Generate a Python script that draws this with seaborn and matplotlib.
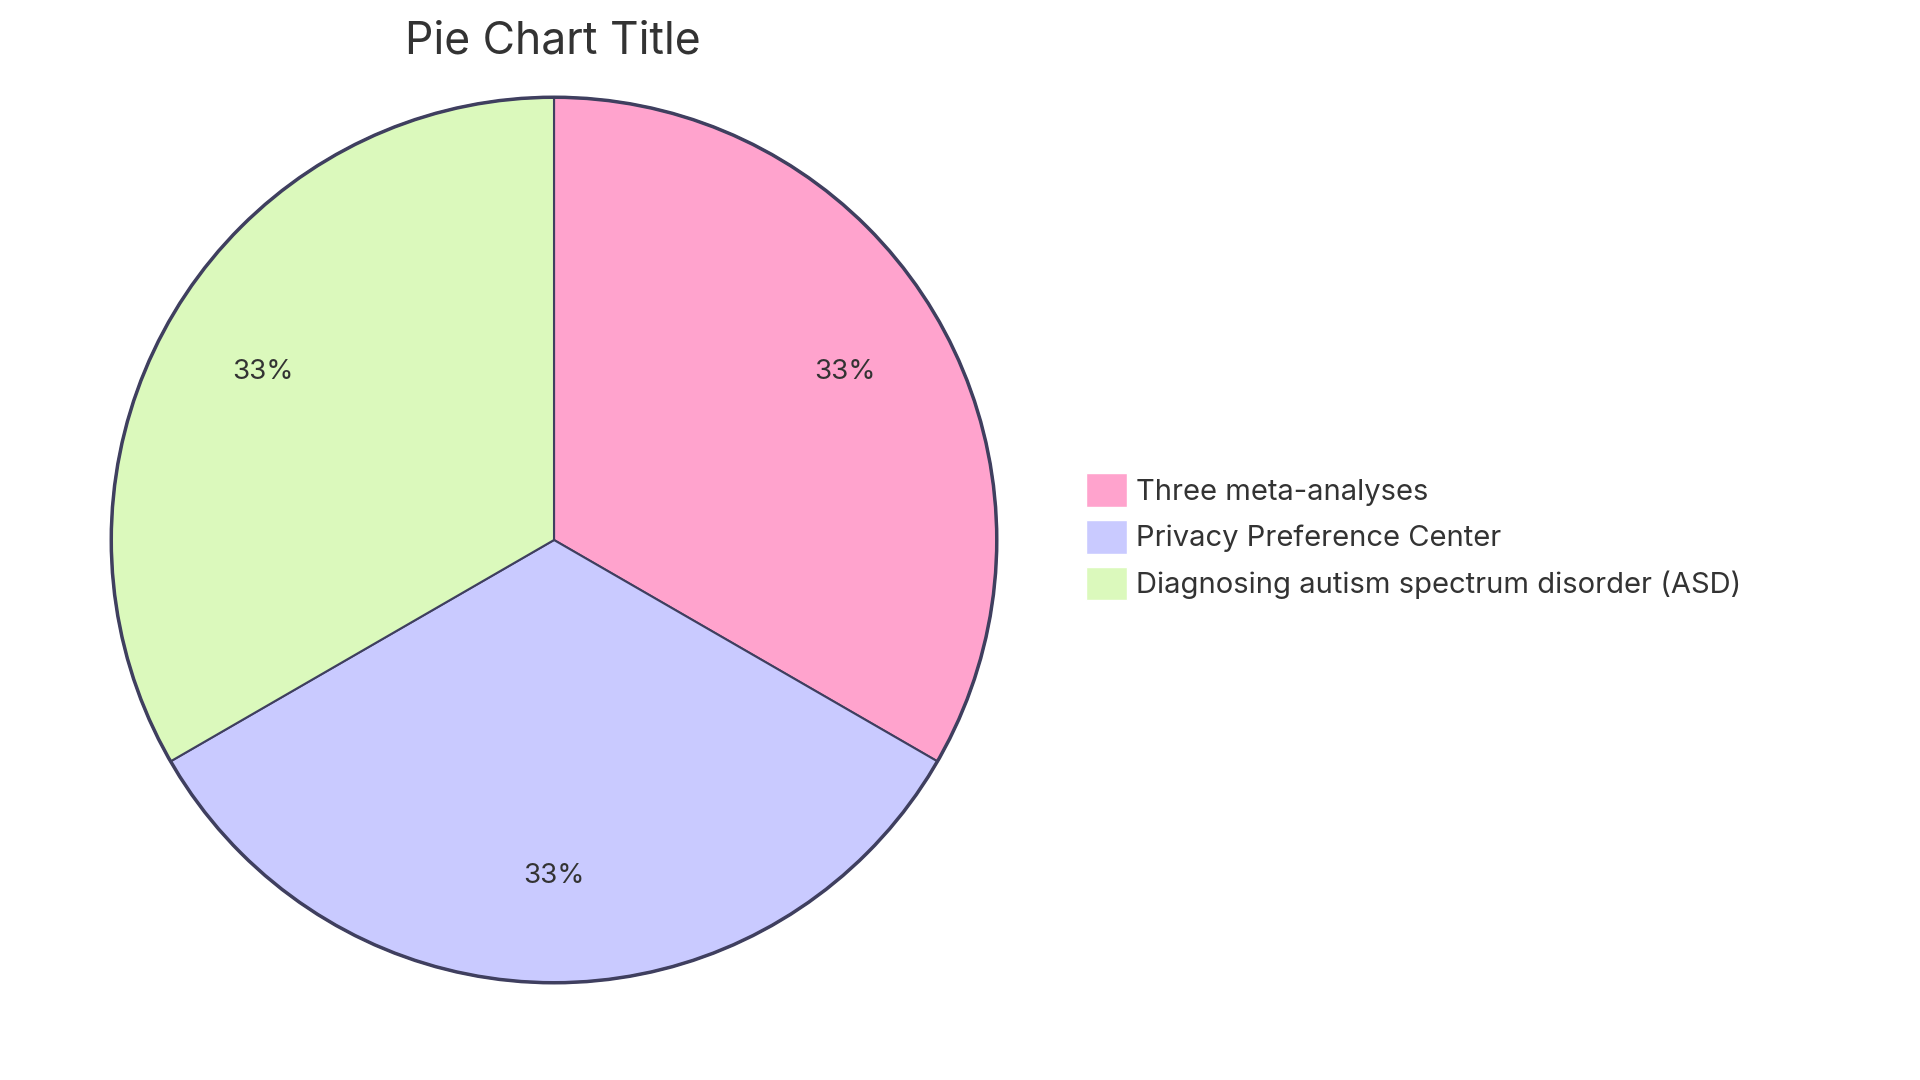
import matplotlib
matplotlib.use("Agg")
import matplotlib.pyplot as plt
import seaborn as sns
from matplotlib.patches import Patch

sns.set_theme(style="white")
plt.rcParams['font.family'] = ['Inter', 'DejaVu Sans']

title = "Pie Chart Title"
categories = ["Three meta-analyses", "Privacy Preference Center", "Diagnosing autism spectrum disorder (ASD)"]
values = [1, 1, 1]
colors = ["#FFA3CD", "#C9CAFF", "#DBF9BC"]
edge = "#3F3F5F"

fig = plt.figure(figsize=(19.2, 10.8), dpi=100)
ax = fig.add_axes([0.0568, 0.088, 0.4635, 0.824])
ax.pie(values, colors=colors, startangle=90, counterclock=False,
       autopct="%1.0f%%", pctdistance=0.76, radius=1,
       wedgeprops=dict(edgecolor=edge, linewidth=1.5),
       textprops=dict(fontsize=20, color="#333333"))
ax.add_patch(plt.Circle((0, 0), 1, fill=False, edgecolor=edge, linewidth=2.5))
ax.set_xlim(-1.005, 1.005)
ax.set_ylim(-1.005, 1.005)
ax.set_aspect("equal")
ax.axis("off")

fig.text(0.288, 0.962, title, ha="center", va="center", fontsize=32, color="#333333")

handles = [Patch(facecolor=c, edgecolor="white", label=l) for c, l in zip(colors, categories)]
fig.legend(handles=handles, loc="center left", bbox_to_anchor=(0.552, 0.503),
           frameon=False, fontsize=21, handlelength=1.4, handleheight=1.4,
           handletextpad=0.3, labelspacing=0.45, labelcolor="#333333")

fig.savefig("out.png", dpi=100, facecolor="white")
